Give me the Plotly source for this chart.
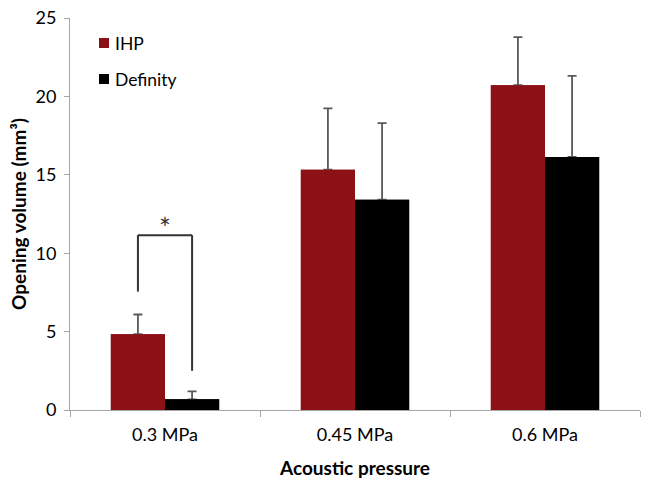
import plotly.graph_objects as go

categories = ["0.3 MPa", "0.45 MPa", "0.6 MPa"]
ihp_values = [4.83, 15.33, 20.71]
ihp_err = [1.26, 3.91, 3.07]
definity_values = [0.68, 13.41, 16.14]
definity_err = [0.51, 4.89, 5.17]
y_ticks = [0, 5, 10, 15, 20, 25]

# significance bracket (data units)
bracket_top = 11.15
bracket_left_bottom = 7.55
bracket_right_bottom = 2.5
star_y = 12.0

bargap = 0.43
bar_w = (1 - bargap) / 2

W, H = 651, 489
ML, MR, MT, MB = 70, 11, 18, 79
PW, PH = W - ML - MR, H - MT - MB

font_family = "Lato, Open Sans, sans-serif"
ihp_color = "#8C1116"
def_color = "#000000"
err_color = "#595959"
axis_color = "#A6A6A6"

def px_x(px):
    return (px - ML) / PW

def px_y(py):
    return (H - MB - py) / PH

fig = go.Figure()
series = [("IHP", ihp_values, ihp_err, ihp_color),
          ("Definity", definity_values, definity_err, def_color)]
# bars with upward error bars
for name, vals, err, col in series:
    fig.add_trace(go.Bar(
        name=name, x=categories, y=vals, marker_color=col,
        marker_line_width=0, showlegend=False, hoverinfo="skip",
        error_y=dict(type="data", array=err, arrayminus=[0] * len(err), symmetric=False,
                     color=err_color, thickness=1.8, width=4.5),
    ))
# same bars drawn again on an overlaid axis pair so the lower error-bar cap is hidden
for name, vals, err, col in series:
    fig.add_trace(go.Bar(
        name=name, x=categories, y=vals, marker_color=col,
        marker_line_width=0, showlegend=False, xaxis="x2", yaxis="y2",
    ))

# manual legend: small squares + labels
legend_rows = [43, 79]
for (name, _, _, col), cy in zip(series, legend_rows):
    fig.add_shape(type="rect", xref="paper", yref="paper",
                  x0=px_x(99), x1=px_x(109), y0=px_y(cy + 5), y1=px_y(cy - 5),
                  fillcolor=col, line_width=0)
    fig.add_annotation(xref="paper", yref="paper", x=px_x(113), y=px_y(cy),
                       text=name, showarrow=False, xanchor="left", yanchor="middle",
                       font=dict(size=17.5, color="#000000", family=font_family))

xl = 0 - bar_w / 2
xr = 0 + bar_w / 2
line = dict(color="#333333", width=2)
fig.add_shape(type="line", xref="x", yref="y", x0=xl, x1=xl, y0=bracket_left_bottom, y1=bracket_top, line=line)
fig.add_shape(type="line", xref="x", yref="y", x0=xl, x1=xr, y0=bracket_top, y1=bracket_top, line=line)
fig.add_shape(type="line", xref="x", yref="y", x0=xr, x1=xr, y0=bracket_top, y1=bracket_right_bottom, line=line)
fig.add_annotation(x=0, y=star_y, xref="x", yref="y", text="*", showarrow=False,
                   font=dict(size=28, color="#333333", family=font_family), yanchor="middle", yshift=-6)

fig.update_layout(
    width=W, height=H,
    margin=dict(l=ML, r=MR, t=MT, b=MB, autoexpand=False),
    paper_bgcolor="white", plot_bgcolor="white",
    barmode="group", bargap=bargap, bargroupgap=0,
    font=dict(family=font_family, size=18, color="#000000"),
    showlegend=False,
    xaxis2=dict(overlaying="x", matches="x", visible=False),
    yaxis2=dict(overlaying="y", matches="y", visible=False, range=[0, 25]),
)
fig.update_layout(xaxis=dict(
    showline=True, linecolor=axis_color, linewidth=1, automargin=False,
    ticks="outside", tickson="boundaries", ticklen=6, tickcolor=axis_color,
    ticklabelstandoff=8,
    title=dict(text="<b>Acoustic pressure</b>", font=dict(size=19), standoff=18),
    tickfont=dict(size=18), showgrid=False,
))
fig.update_layout(yaxis=dict(
    range=[0, 25], tickvals=y_ticks, showline=True, linecolor=axis_color, linewidth=1,
    automargin=False, ticklabelstandoff=4,
    ticks="outside", ticklen=5, tickcolor=axis_color, showgrid=False, zeroline=False,
    title=dict(text="<b>Opening volume (mm³)</b>", font=dict(size=19), standoff=3),
    tickfont=dict(size=18),
))

fig.write_html("out.html", config={"displayModeBar": False},
               post_script="document.body.style.margin='0';")
